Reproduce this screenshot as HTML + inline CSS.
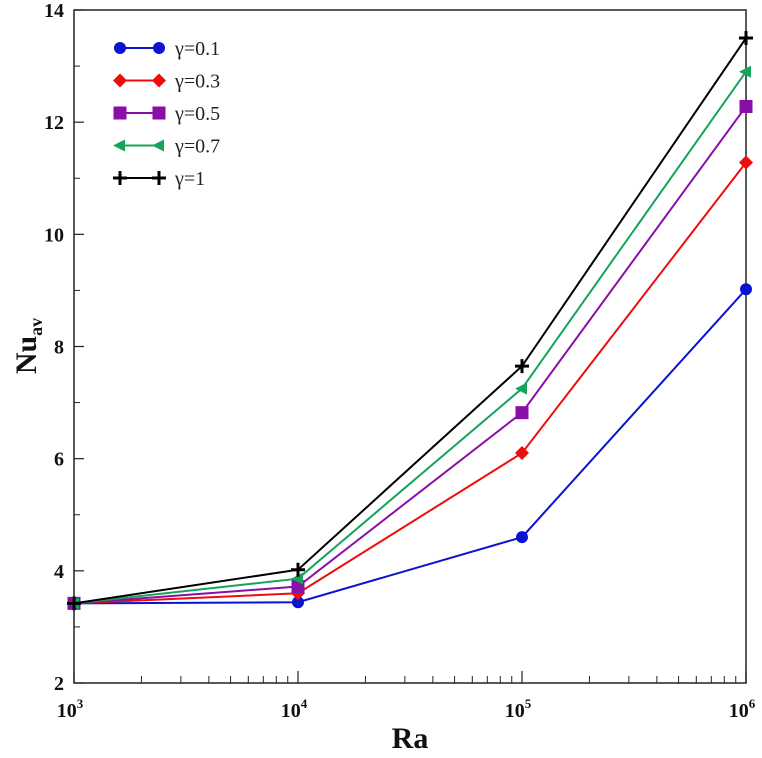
<!DOCTYPE html>
<html><head><meta charset="utf-8"><style>
body{margin:0;background:#fff}
svg text{font-family:"Liberation Serif",serif}
</style></head><body>
<svg id="chart" width="762" height="753" viewBox="0 0 762 753" xmlns="http://www.w3.org/2000/svg"></svg>
<script>
const raValues=[1e3,1e4,1e5,1e6];
const seriesNames=["γ=0.1","γ=0.3","γ=0.5","γ=0.7","γ=1"];
const s01=[3.42,3.44,4.6,9.02];
const s03=[3.42,3.6,6.1,11.28];
const s05=[3.42,3.72,6.82,12.28];
const s07=[3.42,3.86,7.25,12.9];
const s10=[3.42,4.02,7.65,13.5];
const yTicks=[2,4,6,8,10,12,14];
const xTickExp=[3,4,5,6];

const NS="http://www.w3.org/2000/svg";
const svg=document.getElementById('chart');
const L=74,R=746,T=10,B=683;
const xs=v=>L+(Math.log10(v)-3)/3*(R-L);
const ys=v=>B-(v-2)/12*(B-T);
function mk(tag,attrs,parent){const e=document.createElementNS(NS,tag);for(const k in attrs)e.setAttribute(k,attrs[k]);(parent||svg).appendChild(e);return e;}

const frame=mk('rect',{x:L,y:T,width:R-L,height:B-T,fill:'none',stroke:'#222','stroke-width':1.5});



// y ticks
yTicks.forEach((v,i)=>{
  const y=ys(v);
  const t=mk('line',{x1:L,x2:L+10,y1:y,y2:y,stroke:'#222','stroke-width':1.2});
  
  
  if(i<yTicks.length-1){const m=mk('line',{x1:L,x2:L+6,y1:ys(v+1),y2:ys(v+1),stroke:'#222','stroke-width':1});
    
    }
  const tx=mk('text',{x:L-10,y:y+7,'text-anchor':'end','font-size':20,'font-weight':'bold',fill:'#111'});
  tx.textContent=v;
  
  
});
// x ticks
xTickExp.forEach((e,i)=>{
  const x=xs(Math.pow(10,e));
  const t=mk('line',{x1:x,x2:x,y1:B,y2:B-12,stroke:'#222','stroke-width':1.2});
  
  
  if(i<xTickExp.length-1){for(let k=2;k<=9;k++){const xm=xs(k*Math.pow(10,e));
    const m=mk('line',{x1:xm,x2:xm,y1:B,y2:B-7,stroke:'#222','stroke-width':1});
    
    }}
  const tx=mk('text',{x:x-4,y:B+34,'text-anchor':'middle','font-size':20,'font-weight':'bold',fill:'#111'});
  
  
  tx.innerHTML='10<tspan dy="-9" font-size="13">'+e+'</tspan>';
});
const xt=mk('text',{x:410,y:748,'text-anchor':'middle','font-size':30,'font-weight':'bold',fill:'#111'});
xt.textContent='Ra';


const yt=mk('text',{transform:'translate(36,346) rotate(-90)','text-anchor':'middle','font-size':30,'font-weight':'bold',fill:'#111'});
yt.innerHTML='Nu<tspan font-size="18" dy="6">av</tspan>';



const colors=["#0a14d0","#ee0d0d","#8a0ea8","#16a35a","#000"];
const shapes=["circle","diamond","square","triangle","plus"];
const all=[s01,s03,s05,s07,s10];
function marker(shape,x,y,c,g){
  let e;
  if(shape==='circle')e=mk('circle',{cx:x,cy:y,r:6,fill:c},g);
  else if(shape==='diamond')e=mk('polygon',{points:`${x},${y-7} ${x+7},${y} ${x},${y+7} ${x-7},${y}`,fill:c},g);
  else if(shape==='square')e=mk('rect',{x:x-6.5,y:y-6.5,width:13,height:13,fill:c},g);
  else if(shape==='triangle')e=mk('polygon',{points:`${x-7},${y} ${x+5},${y-6} ${x+5},${y+6}`,fill:c},g);
  else e=mk('path',{d:`M${x-7},${y}H${x+7}M${x},${y-7}V${y+7}`,stroke:c,'stroke-width':3,fill:'none'},g);
  
  
}
all.forEach((vals,si)=>{
  const g=mk('g',{});
  
  
  const pts=vals.map((v,i)=>xs(raValues[i])+','+ys(v)).join(' ');
  const pl=mk('polyline',{points:pts,fill:'none',stroke:colors[si],'stroke-width':2},g);
  
  
  vals.forEach((v,i)=>marker(shapes[si],xs(raValues[i]),ys(v),colors[si],g));
  // legend
  const ly=48+si*32.5;
  const lg=mk('g',{});
  
  
  const ll=mk('line',{x1:120,x2:159,y1:ly,y2:ly,stroke:colors[si],'stroke-width':2},lg);
  
  
  marker(shapes[si],120,ly,colors[si],lg);
  marker(shapes[si],159,ly,colors[si],lg);
  const lt=mk('text',{x:175,y:ly+7,'font-size':20,fill:'#222'},lg);
  lt.textContent=seriesNames[si];
  
  
});
</script>
</body></html>
